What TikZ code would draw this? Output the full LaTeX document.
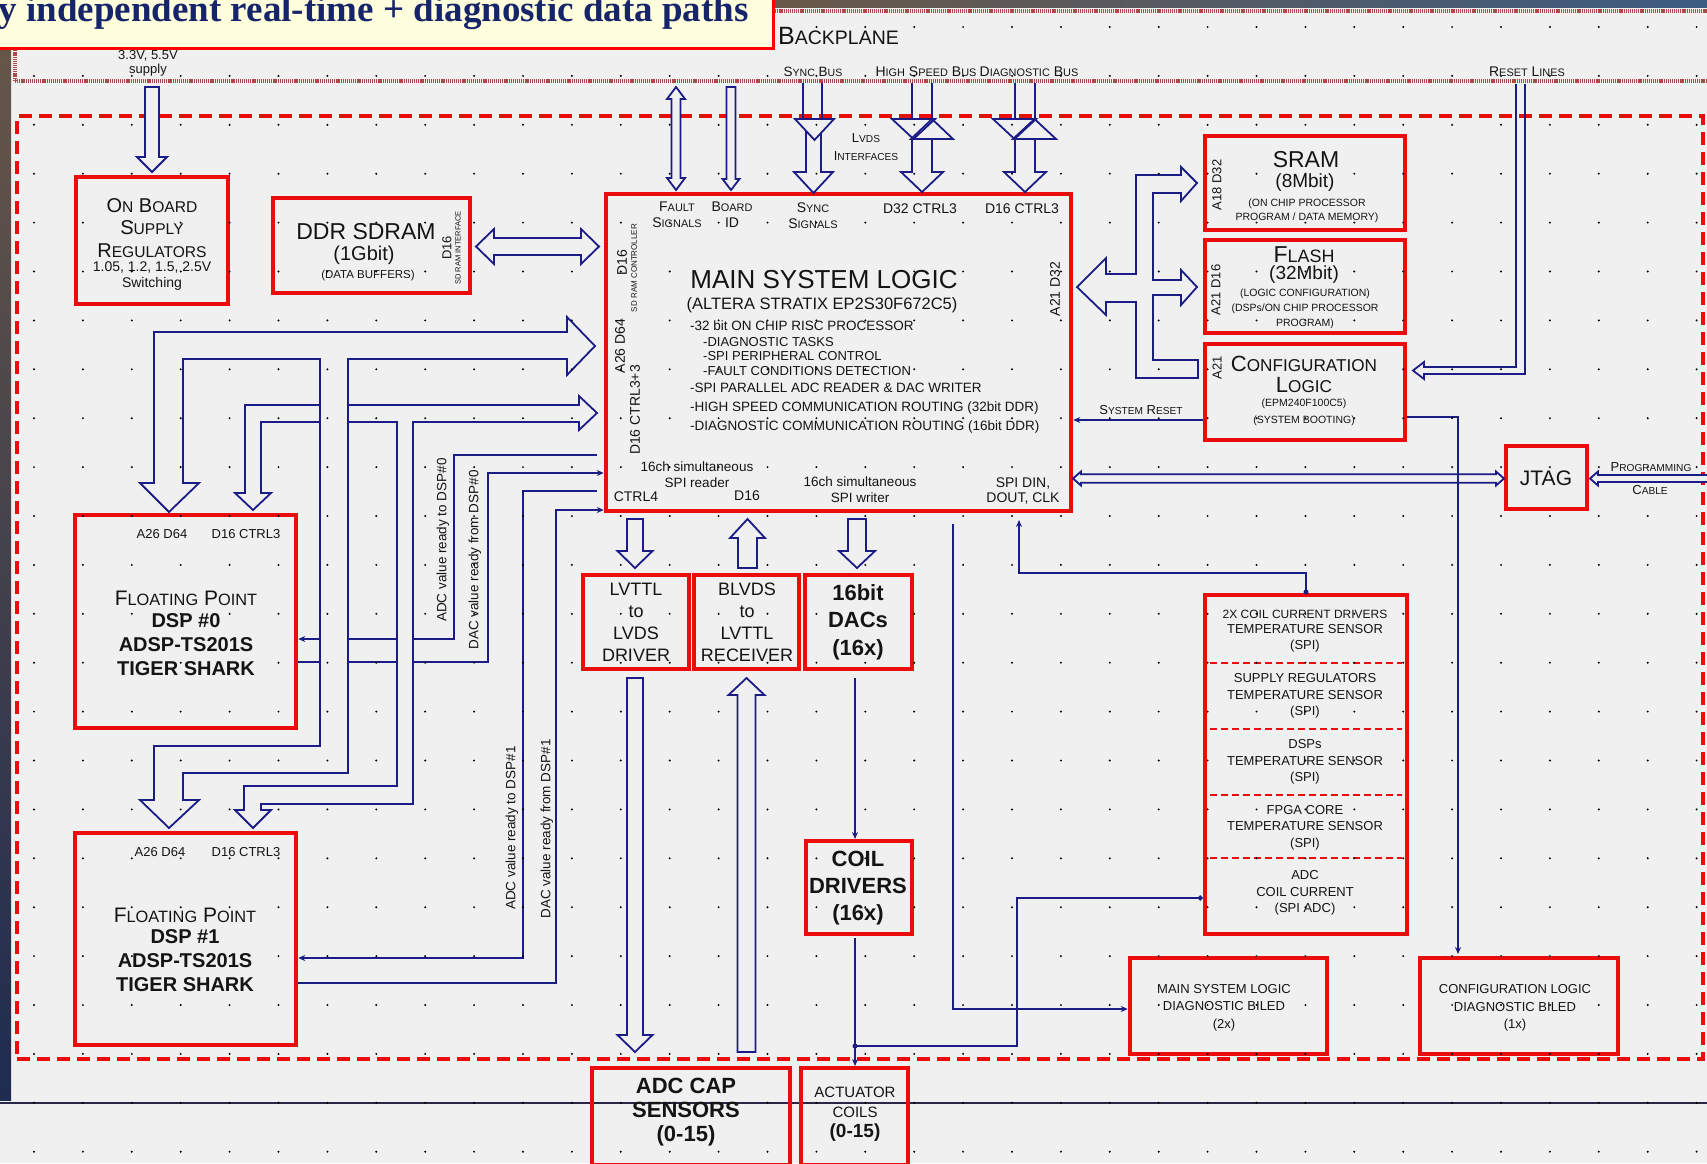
\documentclass[tikz,border=0pt]{standalone}
\usepackage{fontspec}
\usepackage{graphicx}
\setmainfont{Liberation Sans}
\newfontfamily\titleserif{Liberation Serif}
\usetikzlibrary{arrows.meta}

\definecolor{bg}{RGB}{240,240,240}
\definecolor{wire}{RGB}{28,28,135}
\definecolor{boxred}{RGB}{235,12,12}
\definecolor{cream}{RGB}{255,255,221}
\definecolor{titleblue}{RGB}{22,36,105}
\definecolor{hatch}{RGB}{175,72,72}
\definecolor{ink}{RGB}{20,20,20}
\definecolor{photoA}{RGB}{105,88,72}
\definecolor{photoB}{RGB}{60,92,130}
\definecolor{photoC}{RGB}{30,44,80}

\newcommand\fsz[2]{\fontsize{#1}{#2}\selectfont}
\newcommand\capsc[2]{#1\scalebox{0.78}{#2}}

% red block given by its corners
\newcommand\rbox[5]{\node[redbox, minimum width={(#4)-(#2)}, minimum height={(#5)-(#3)}] (#1) at ({((#2)+(#4))/2},{((#3)+(#5))/2}) {};}
% hollow arrows: x, start, tip, shaft half width, head half width, head length
\newcommand\fatdown[6]{\draw[fat] ({#1-#4},#2) -- ({#1-#4},{#3-#6}) -- ({#1-#5},{#3-#6}) -- (#1,#3) -- ({#1+#5},{#3-#6}) -- ({#1+#4},{#3-#6}) -- ({#1+#4},#2) -- cycle;}
\newcommand\fatup[6]{\draw[fat] ({#1-#4},#2) -- ({#1-#4},{#3+#6}) -- ({#1-#5},{#3+#6}) -- (#1,#3) -- ({#1+#5},{#3+#6}) -- ({#1+#4},{#3+#6}) -- ({#1+#4},#2) -- cycle;}
\newcommand\fatud[6]{\draw[fat] (#1,#2) -- ({#1+#5},{#2+#6}) -- ({#1+#4},{#2+#6}) -- ({#1+#4},{#3-#6}) -- ({#1+#5},{#3-#6}) -- (#1,#3) -- ({#1-#5},{#3-#6}) -- ({#1-#4},{#3-#6}) -- ({#1-#4},{#2+#6}) -- ({#1-#5},{#2+#6}) -- cycle;}
% horizontal: y, left tip, right tip, ...
\newcommand\fatlr[6]{\draw[fat] (#2,#1) -- ({#2+#6},{#1-#5}) -- ({#2+#6},{#1-#4}) -- ({#3-#6},{#1-#4}) -- ({#3-#6},{#1-#5}) -- (#3,#1) -- ({#3-#6},{#1+#5}) -- ({#3-#6},{#1+#4}) -- ({#2+#6},{#1+#4}) -- ({#2+#6},{#1+#5}) -- cycle;}
\newcommand\fatleft[6]{\draw[fat] (#2,{#1-#4}) -- ({#3+#6},{#1-#4}) -- ({#3+#6},{#1-#5}) -- (#3,#1) -- ({#3+#6},{#1+#5}) -- ({#3+#6},{#1+#4}) -- (#2,{#1+#4}) -- cycle;}

\tikzset{
  redbox/.style={draw=boxred, line width=4.5pt, inner sep=0pt},
  wirel/.style={draw=wire, line width=2pt},
  arrowend/.style={-{Stealth[length=7pt,width=6pt]}},
  fat/.style={draw=wire, line width=1.8pt, fill=bg, line join=miter},
  fatopen/.style={draw=wire, line width=1.8pt, line join=miter},
  lbl/.style={text=ink, inner sep=0pt, align=center},
  hatchline/.style={draw=hatch, line width=4pt, dash pattern=on 1.2pt off 0.9pt},
  sepline/.style={draw=boxred, line width=1.5pt, dash pattern=on 7pt off 4pt},
}

\begin{document}
\begin{tikzpicture}[x=1pt,y=-1pt]
\useasboundingbox (0,0) rectangle (1707,1163);
\begin{scope}
\clip (0,0) rectangle (1707,1163);
\fill[bg] (0,0) rectangle (1707,1163);

% photo edges of the slide
\shade[top color=photoA, middle color=photoB, bottom color=photoC] (0,0) rectangle (11,1100);
\shade[left color=photoA, right color=photoB] (773,0) rectangle (1707,7);

% backplane outline
\draw[hatchline] (773,10.5) -- (1707,10.5);
\draw[hatchline] (15,80.5) -- (1707,80.5);
\draw[hatchline] (15,46) -- (15,80.5);

% board outline
\node[draw=boxred, line width=4pt, dash pattern=on 13pt off 7pt, minimum width=1686, minimum height=943, inner sep=0pt] (board) at (860,587.5) {};
\draw[line width=1.2pt, draw={rgb,255:red,40;green,40;blue,70}] (0,1103) -- (1707,1103);

% blocks
\rbox{supply}{76}{177}{228}{304}
\rbox{ddr}{273}{198}{470}{293}
\rbox{msl}{606}{194}{1071}{511}
\rbox{sram}{1205}{136}{1405}{230}
\rbox{flash}{1205}{240}{1405}{333}
\rbox{cfg}{1205}{344}{1405}{440}
\rbox{jtag}{1506}{446}{1587}{509}
\rbox{dspa}{75}{515}{296}{728}
\rbox{dspb}{75}{833}{296}{1045}
\rbox{lvttl}{583}{575}{689}{669}
\rbox{blvds}{694}{575}{799}{669}
\rbox{dacs}{805}{575}{912}{669}
\rbox{coil}{806}{841}{912}{934}
\rbox{adccap}{592}{1068}{790}{1165}
\rbox{act}{801}{1068}{908}{1165}
\rbox{sens}{1205}{595}{1407}{934}
\rbox{mled}{1130}{958}{1327}{1054}
\rbox{cled}{1420}{958}{1618}{1054}
\draw[sepline] (1210,663) -- (1402,663);
\draw[sepline] (1210,729) -- (1402,729);
\draw[sepline] (1210,795) -- (1402,795);
\draw[sepline] (1210,858) -- (1402,858);

% handshake lines between the DSPs and the main logic
\draw[wirel, arrowend] (597,455) -| (454,639) -- (dspa.east |- 0,639);
\draw[wirel, arrowend] (dspa.east |- 0,662) -| (488,473) -- (msl.west |- 0,473);
\draw[wirel, arrowend] (597,491) -| (523,958) -- (dspb.east |- 0,958);
\draw[wirel, arrowend] (dspb.east |- 0,983) -| (556,510) -- (msl.west |- 0,510);

% D16 CTRL3 bus to both DSPs
\draw[fat] (597,413) -- (579,430) -- (579,422) -- (413,422) -- (413,804) -- (261,804) -- (261,810) -- (271,810) -- (253,828) -- (235,810) -- (244,810) -- (244,786) -- (397,786) -- (397,422) -- (261,422) -- (261,493) -- (271,493) -- (253,510) -- (235,493) -- (245,493) -- (245,405) -- (579,405) -- (579,396) -- cycle;
% A26 D64 bus to both DSPs
\draw[fat] (595,346) -- (567,375) -- (567,359) -- (348,359) -- (348,773) -- (183,773) -- (183,800) -- (199,800) -- (169,828) -- (140,800) -- (154,800) -- (154,746) -- (320,746) -- (320,359) -- (183,359) -- (183,483) -- (199,483) -- (169,512) -- (140,483) -- (154,483) -- (154,332) -- (567,332) -- (567,317) -- cycle;

% memory / configuration bus
\draw[fat] (1077,287) -- (1106,258) -- (1106,274) -- (1136,274) -- (1136,175) -- (1181,175) -- (1181,167) -- (1197,183) -- (1181,201) -- (1181,193) -- (1153,193) -- (1153,280) -- (1181,280) -- (1181,270) -- (1197,287) -- (1181,305) -- (1181,295) -- (1153,295) -- (1153,360) -- (1198,360) -- (1198,378) -- (1136,378) -- (1136,302) -- (1106,302) -- (1106,315) -- cycle;

% straight hollow arrows
\fatdown{152}{87}{172}{7}{15}{15}
\fatud{676}{87}{190}{4.5}{9}{12}
\fatdown{731}{87}{190}{4.5}{8.5}{11}
\fatlr{246.5}{476}{599}{8.5}{17.5}{18}
\fatdown{635}{519}{568}{8}{17.5}{17}
\fatup{747.5}{568}{519}{9.5}{17.5}{19}
\fatdown{857}{519}{568}{9}{18}{17}
\fatdown{635}{678}{1052}{8}{17.5}{17}
\fatup{746.5}{1052}{678}{9}{18}{17}
\fatlr{478.5}{1073}{1504}{4.2}{7}{8}
\fatleft{478.5}{1712}{1590}{3.5}{7}{8}
\draw[fatopen] (1516,84) -- (1516,367) -- (1424,367) -- (1424,362) -- (1413,370.5) -- (1424,379) -- (1424,374) -- (1525,374) -- (1525,84);

% LVDS interfaces on the sync, high speed and diagnostic buses
\draw[wirel] (803,83) -- (803,119) (822,83) -- (822,119);
\draw[fatopen] (795,119) -- (834,119) -- (814.5,140) -- cycle;
\draw[fatopen] (806,131) -- (806,172) -- (794,172) -- (813.5,193) -- (833,172) -- (821,172) -- (821,133);
\draw[wirel] (912,83) -- (912,119) (932,83) -- (932,119);
\draw[fatopen] (892,119) -- (935,119) -- (913.5,139) -- cycle;
\draw[fatopen] (911,139) -- (953,139) -- (932,119) -- cycle;
\draw[fatopen] (912,139) -- (912,172) -- (901,172) -- (922,192) -- (943,172) -- (932,172) -- (932,139);
\draw[wirel] (1015,83) -- (1015,119) (1035,83) -- (1035,119);
\draw[fatopen] (993,119) -- (1036,119) -- (1014.5,139) -- cycle;
\draw[fatopen] (1013,139) -- (1056,139) -- (1034.5,119) -- cycle;
\draw[fatopen] (1015,139) -- (1015,172) -- (1004,172) -- (1025,192) -- (1046,172) -- (1035,172) -- (1035,139);

% thin signal lines
\draw[wirel, arrowend] (cfg.west |- 0,420) -- (msl.east |- 0,420);
\draw[wirel, arrowend] (cfg.east |- 0,417) -| (1458,954);
\draw[wirel, arrowend] (953,524) |- (mled.west |- 0,1009);
\draw[wirel, arrowend] (sens.north) |- (1019,573) -- (1019,520);
\fill[wire] (1306,592) circle (2.5);
\draw[wirel, arrowend] (855,678) -- (855,839);
\draw[wirel, arrowend] (855,938) -- (855,1066);
\draw[wirel, -{Circle[length=5pt]}] (855,1046) -| (1017,898) -- (sens.west |- 0,898);
\fill[wire] (855,1046) circle (2.5);

% dotted drawing grid
\foreach \i in {0,...,34} {\foreach \j in {0,...,23} {\fill[black] ({34+48.9*\i},{27+48.9*\j}) circle (1.1);}}

% heading banner
\node[draw=red, line width=3pt, fill=cream, minimum width=800, minimum height=60, inner sep=0pt] (titlebox) at (373,18) {};
\node[anchor=base east, inner sep=0pt, text=titleblue, font=\titleserif\bfseries\fsz{37}{37}] (title) at (749,21) {y independent real-time + diagnostic data paths};

% backplane labels
\node[lbl, anchor=base west, font=\fsz{25}{25}] (bp) at (778,44) {\capsc{B}{ACKPLANE}};
\node[lbl, anchor=base, font=\fsz{13}{13}] (sup1) at (148,59) {3.3V, 5.5V};
\node[lbl, anchor=base, font=\fsz{13}{13}] (sup2) at (148,73) {supply};
\node[lbl, anchor=base, font=\fsz{13.5}{13.5}] (sbus) at (813,76) {\capsc{S}{YNC} \capsc{B}{US}};
\node[lbl, anchor=base, font=\fsz{14}{14}] (hbus) at (926,76) {\capsc{H}{IGH} \capsc{S}{PEED} \capsc{B}{US}};
\node[lbl, anchor=base, font=\fsz{14}{14}] (dbus) at (1029,76) {\capsc{D}{IAGNOSTIC} \capsc{B}{US}};
\node[lbl, anchor=base, font=\fsz{14}{14}] (rl) at (1527,76) {\capsc{R}{ESET} \capsc{L}{INES}};
\node[lbl, anchor=base, font=\fsz{13}{13}] (lvds1) at (866,142) {\capsc{L}{VDS}};
\node[lbl, anchor=base, font=\fsz{13}{13}] (lvds2) at (866,160) {\capsc{I}{NTERFACES}};

% supply regulators
\node[lbl, font=\fsz{20}{22.5}] (supt) at (152,228) {\capsc{O}{N} \capsc{B}{OARD}\\\capsc{S}{UPPLY}\\\capsc{R}{EGULATORS}};
\node[lbl, font=\fsz{14}{16}] (supv) at (152,276) {1.05, 1.2, 1.5, 2.5V\\Switching};

% DDR SDRAM
\node[lbl, font=\fsz{23}{23}] (ddrt) at (366,232) {DDR SDRAM};
\node[lbl, font=\fsz{20}{20}] (ddrs) at (364,255) {(1Gbit)};
\node[lbl, font=\fsz{11.5}{11.5}] (ddrd) at (368,276) {(DATA BUFFERS)};
\node[lbl, rotate=90, font=\fsz{13}{13}] (ddrb) at (447,248) {D16};
\node[lbl, rotate=90, font=\fsz{7.5}{7.5}] (ddri) at (458,248) {SD RAM INTERFACE};

% main system logic
\node[lbl, font=\fsz{14}{16}] (fault) at (677,215) {\capsc{F}{AULT}\\\capsc{S}{IGNALS}};
\node[lbl, font=\fsz{14}{16}] (bid) at (732,215) {\capsc{B}{OARD}\\ID};
\node[lbl, font=\fsz{14}{16}] (syncs) at (813,216) {\capsc{S}{YNC}\\\capsc{S}{IGNALS}};
\node[lbl, font=\fsz{14}{14}] (d32c) at (920,209) {D32 CTRL3};
\node[lbl, font=\fsz{14}{14}] (d16c) at (1022,209) {D16 CTRL3};
\node[lbl, font=\fsz{26}{26}] (mslt) at (824,280) {MAIN SYSTEM LOGIC};
\node[lbl, font=\fsz{16.5}{16.5}] (mslp) at (822,305) {(ALTERA STRATIX EP2S30F672C5)};
\node[lbl, anchor=west, font=\fsz{13.5}{13.5}] (f1) at (690,326) {-32 bit ON CHIP RISC PROCESSOR};
\node[lbl, anchor=west, font=\fsz{13}{13}] (f2) at (703,342) {-DIAGNOSTIC TASKS};
\node[lbl, anchor=west, font=\fsz{13}{13}] (f3) at (703,356) {-SPI PERIPHERAL CONTROL};
\node[lbl, anchor=west, font=\fsz{13}{13}] (f4) at (703,371) {-FAULT CONDITIONS DETECTION};
\node[lbl, anchor=west, font=\fsz{13.5}{13.5}] (f5) at (690,388) {-SPI PARALLEL ADC READER \& DAC WRITER};
\node[lbl, anchor=west, font=\fsz{13.5}{13.5}] (f6) at (690,408) {-HIGH SPEED COMMUNICATION ROUTING (32bit DDR)};
\node[lbl, anchor=west, font=\fsz{13.5}{13.5}] (f7) at (690,427) {-DIAGNOSTIC COMMUNICATION ROUTING (16bit DDR)};
\node[lbl, font=\fsz{13.5}{16}] (rd) at (697,475) {16ch simultaneous\\SPI reader};
\node[lbl, font=\fsz{14}{14}] (d16b) at (747,496) {D16};
\node[lbl, font=\fsz{14}{14}] (ctl4) at (636,497) {CTRL4};
\node[lbl, font=\fsz{13.5}{16}] (wr) at (860,490) {16ch simultaneous\\SPI writer};
\node[lbl, font=\fsz{14}{15}] (spi) at (1023,491) {SPI DIN,\\DOUT, CLK};
\node[lbl, rotate=90, font=\fsz{14}{14}] (ml1) at (622,263) {D16};
\node[lbl, rotate=90, font=\fsz{8}{8}] (ml2) at (634,268) {SD RAM CONTROLLER};
\node[lbl, rotate=90, font=\fsz{14}{14}] (ml3) at (620,346) {A26 D64};
\node[lbl, rotate=90, font=\fsz{14}{14}] (ml4) at (635,410) {D16 CTRL3+3};
\node[lbl, rotate=90, font=\fsz{14}{14}] (mr1) at (1055,289) {A21 D32};

% memories and configuration
\node[lbl, font=\fsz{23}{23}] (sramt) at (1306,160) {SRAM};
\node[lbl, font=\fsz{19}{19}] (srams) at (1305,183) {(8Mbit)};
\node[lbl, font=\fsz{10.5}{14}] (sramd) at (1307,211) {(ON CHIP PROCESSOR\\PROGRAM / DATA MEMORY)};
\node[lbl, rotate=90, font=\fsz{13}{13}] (srama) at (1217,185) {A18 D32};
\node[lbl, font=\fsz{23}{23}] (flt) at (1304,255) {\capsc{F}{LASH}};
\node[lbl, font=\fsz{19}{19}] (fls) at (1304,275) {(32Mbit)};
\node[lbl, font=\fsz{10.5}{15}] (fld) at (1305,309) {(LOGIC CONFIGURATION)\\(DSPs/ON CHIP PROCESSOR\\PROGRAM)};
\node[lbl, rotate=90, font=\fsz{13}{13}] (fla) at (1216,290) {A21 D16};
\node[lbl, font=\fsz{22}{21}] (cfgt) at (1304,374.5) {\capsc{C}{ONFIGURATION}\\\capsc{L}{OGIC}};
\node[lbl, font=\fsz{10.5}{17}] (cfgd) at (1304,412.5) {(EPM240F100C5)\\(SYSTEM BOOTING)};
\node[lbl, rotate=90, font=\fsz{13}{13}] (cfga) at (1217,368) {A21};
\node[lbl, font=\fsz{13}{13}] (srst) at (1141,410) {\capsc{S}{YSTEM} \capsc{R}{ESET}};
\node[lbl, font=\fsz{21}{21}] (jtagt) at (1546,478) {JTAG};
\node[lbl, font=\fsz{13}{13}] (pc1) at (1651,467) {\capsc{P}{ROGRAMMING}};
\node[lbl, font=\fsz{13}{13}] (pc2) at (1650,490) {\capsc{C}{ABLE}};

% DSPs
\node[lbl, font=\fsz{13}{13}] (a0a) at (162,534) {A26 D64};
\node[lbl, font=\fsz{13}{13}] (a0b) at (246,534) {D16 CTRL3};
\node[lbl, font=\fsz{21}{21}] (a0c) at (186,598) {\capsc{F}{LOATING} \capsc{P}{OINT}};
\node[lbl, font=\bfseries\fsz{20}{24}] (a0d) at (186,645) {DSP \#0\\ADSP-TS201S\\TIGER SHARK};
\node[lbl, font=\fsz{13}{13}] (b0a) at (160,852) {A26 D64};
\node[lbl, font=\fsz{13}{13}] (b0b) at (246,852) {D16 CTRL3};
\node[lbl, font=\fsz{21}{21}] (b0c) at (185,915) {\capsc{F}{LOATING} \capsc{P}{OINT}};
\node[lbl, font=\bfseries\fsz{20}{24}] (b0d) at (185,961) {DSP \#1\\ADSP-TS201S\\TIGER SHARK};
\node[lbl, rotate=90, font=\fsz{13.5}{13.5}] (h1) at (443,540) {ADC value ready to DSP\#0};
\node[lbl, rotate=90, font=\fsz{13.5}{13.5}] (h2) at (475,560) {DAC value ready from DSP\#0};
\node[lbl, rotate=90, font=\fsz{13.5}{13.5}] (h3) at (512,828) {ADC value ready to DSP\#1};
\node[lbl, rotate=90, font=\fsz{13.5}{13.5}] (h4) at (547,829) {DAC value ready from DSP\#1};

% converters and analogue side
\node[lbl, font=\fsz{18}{22}] (lvt) at (636,622) {LVTTL\\to\\LVDS\\DRIVER};
\node[lbl, font=\fsz{18}{22}] (blt) at (747,622) {BLVDS\\to\\LVTTL\\RECEIVER};
\node[lbl, font=\bfseries\fsz{22}{27.5}] (dact) at (858,622) {16bit\\DACs\\(16x)};
\node[lbl, font=\bfseries\fsz{22}{27}] (coilt) at (858,888) {COIL\\DRIVERS\\(16x)};
\node[lbl, font=\bfseries\fsz{22}{24}] (adct) at (686,1112) {ADC CAP\\SENSORS\\(0-15)};
\node[lbl, font=\fsz{15}{20}] (actt) at (855,1102) {ACTUATOR\\COILS};
\node[lbl, font=\bfseries\fsz{19}{19}] (actn) at (855,1133) {(0-15)};

% sensors and diagnostic LEDs
\node[lbl, font=\fsz{12}{12}] (s1a) at (1305,614) {2X COIL CURRENT DRIVERS};
\node[lbl, font=\fsz{13}{16.5}] (s1b) at (1305,638.5) {TEMPERATURE SENSOR\\(SPI)};
\node[lbl, font=\fsz{13}{16.5}] (s2) at (1305,696) {SUPPLY REGULATORS\\TEMPERATURE SENSOR\\(SPI)};
\node[lbl, font=\fsz{13}{16.5}] (s3) at (1305,762) {DSPs\\TEMPERATURE SENSOR\\(SPI)};
\node[lbl, font=\fsz{13}{16.5}] (s4) at (1305,827.5) {FPGA CORE\\TEMPERATURE SENSOR\\(SPI)};
\node[lbl, font=\fsz{13}{16.5}] (s5) at (1305,893) {ADC\\COIL CURRENT\\(SPI ADC)};
\node[lbl, font=\fsz{13}{17.5}] (mledt) at (1224,1007.5) {MAIN SYSTEM LOGIC\\DIAGNOSTIC BILED\\(2x)};
\node[lbl, font=\fsz{13}{17.5}] (cledt) at (1515,1008) {CONFIGURATION LOGIC\\DIAGNOSTIC BILED\\(1x)};
\end{scope}
\end{tikzpicture}
\end{document}
